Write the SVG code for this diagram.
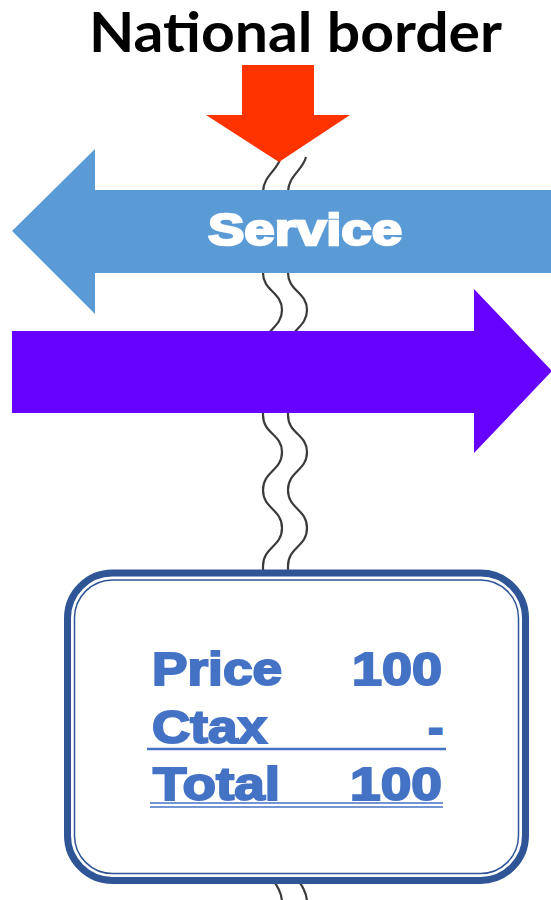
<svg xmlns="http://www.w3.org/2000/svg" xmlns:xlink="http://www.w3.org/1999/xlink" width="551" height="900" viewBox="0 0 551 900">
  <style>
    .wave { fill: none; stroke: #3a3a3a; stroke-width: 2.2; }
    .boxtxt { font-family: "Liberation Sans", Arial, sans-serif; font-weight: bold; font-size: 46px; fill: #4472C4; stroke: #4472C4; stroke-width: 2; }
    .uline { stroke: #4472C4; fill: none; }
  </style>
  <defs>
    <path id="wavePath" d="M281,157 C278,170 263,176 263,192 L263,273 C263,291 282,292 282,310 C282,328 263,330 263,348 L263,415 C263,434 282,434 282,452 C282,471 263,471 263,490 C263,509 282,509 282,528 C282,547 263,547 263,566 L263,860 C263,872 282,885 282,902"/>
  </defs>
  <rect width="551" height="900" fill="#ffffff"/>

  <g id="title">
    <text x="89" y="52" font-family="Lato, 'Open Sans', sans-serif" font-weight="bold" font-size="56" fill="#000000" textLength="413" lengthAdjust="spacingAndGlyphs">National border</text>
  </g>

  <g id="border-lines">
    <use xlink:href="#wavePath" href="#wavePath" class="wave"/>
    <use xlink:href="#wavePath" href="#wavePath" class="wave" transform="translate(25,0)"/>
  </g>

  <g id="arrow-red">
    <polygon points="242,65 314,65 314,115 350,115 279,162 206,115 242,115" fill="#FF3300"/>
  </g>

  <g id="arrow-service">
    <polygon points="12,231 95,149 95,190 551,190 551,273 95,273 95,314" fill="#5B9BD5"/>
    <text x="208" y="245" font-family="'Liberation Sans', Arial, sans-serif" font-weight="bold" font-size="45" fill="#ffffff" stroke="#ffffff" stroke-width="2.4" textLength="194" lengthAdjust="spacingAndGlyphs">Service</text>
  </g>

  <g id="arrow-purple">
    <polygon points="12,331 474,331 474,289 552,371 474,453 474,413 12,413" fill="#6600FF"/>
  </g>

  <g id="price-box">
    <rect x="67.5" y="573" width="458" height="307.5" rx="45" ry="45" fill="#ffffff" stroke="#2F5597" stroke-width="7"/>
    <rect x="74.5" y="580" width="444" height="293.5" rx="38" ry="38" fill="none" stroke="#2F5597" stroke-width="1.5"/>
    <text class="boxtxt" x="152" y="685" textLength="130" lengthAdjust="spacingAndGlyphs">Price</text>
    <text class="boxtxt" x="352" y="685" textLength="90" lengthAdjust="spacingAndGlyphs">100</text>
    <text class="boxtxt" x="152" y="743" textLength="115" lengthAdjust="spacingAndGlyphs">Ctax</text>
    <text class="boxtxt" x="428" y="743">-</text>
    <line class="uline" x1="147" y1="749" x2="446" y2="749" stroke-width="2.5"/>
    <text class="boxtxt" x="153" y="800" textLength="127" lengthAdjust="spacingAndGlyphs">Total</text>
    <text class="boxtxt" x="350" y="800" textLength="92" lengthAdjust="spacingAndGlyphs">100</text>
    <line class="uline" x1="150" y1="803" x2="443" y2="803" stroke-width="1.5"/>
    <line class="uline" x1="150" y1="807" x2="443" y2="807" stroke-width="1.5"/>
  </g>
</svg>
